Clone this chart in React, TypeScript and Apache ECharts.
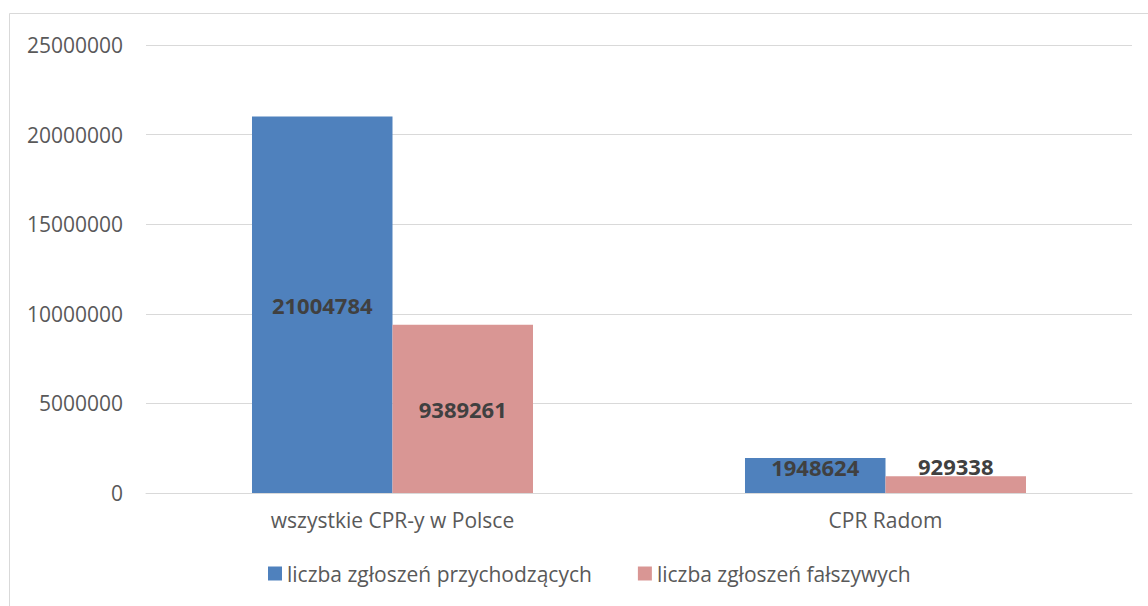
import React, { useEffect, useRef } from "react";
import * as echarts from "echarts";

const categories = ["wszystkie CPR-y w Polsce", "CPR Radom"];
const seriesNames = ["liczba zgłoszeń przychodzących", "liczba zgłoszeń fałszywych"];
const incoming = [21004784, 1948624];
const falseCalls = [9389261, 929338];
const yTicks = { min: 0, max: 25000000, interval: 5000000 };

const FONT = "'Open Sans', 'Noto Sans', sans-serif";

export default function App() {
  const ref = useRef<HTMLDivElement>(null);
  useEffect(() => {
    document.body.style.margin = "0";
    const chart = echarts.init(ref.current!, null, { renderer: "svg" });
    const labelBase = {
      show: true,
      position: "inside",
      fontFamily: FONT,
      fontSize: 22,
      fontWeight: "bold",
      color: "#404040",
    };
    chart.setOption({
      animation: false,
      backgroundColor: "#ffffff",
      graphic: [
        {
          type: "rect",
          shape: { x: 9.5, y: 13.5, width: 1200, height: 700 },
          style: { fill: "none", stroke: "#d9d9d9", lineWidth: 1 },
          silent: true,
          z: -10,
        },
      ],
      grid: { left: 146, right: 16, top: 45, bottom: 113, containLabel: false },
      xAxis: {
        type: "category",
        data: categories,
        axisLine: { show: true, lineStyle: { color: "#d9d9d9", width: 1 } },
        axisTick: { show: false },
        axisLabel: { fontFamily: FONT, fontSize: 21, color: "#595959", margin: 16 },
      },
      yAxis: {
        type: "value",
        min: yTicks.min,
        max: yTicks.max,
        interval: yTicks.interval,
        axisLine: { show: false },
        axisTick: { show: false },
        splitLine: { lineStyle: { color: "#d9d9d9", width: 1 } },
        axisLabel: {
          fontFamily: FONT,
          fontSize: 21,
          color: "#595959",
          margin: 23,
          formatter: (v: number) => String(v),
        },
      },
      legend: {
        data: seriesNames,
        bottom: 17,
        left: 263,
        icon: "rect",
        itemWidth: 14,
        itemHeight: 14,
        itemGap: 46,
        textStyle: { fontFamily: FONT, fontSize: 21, color: "#595959" },
      },
      series: [
        {
          name: seriesNames[0],
          type: "bar",
          barGap: "0%",
          barCategoryGap: "43%",
          itemStyle: { color: "#4f81bd" },
          label: labelBase,
          data: incoming.map((v, i) =>
            i === 1 ? { value: v, label: { offset: [0, -9] } } : { value: v }
          ),
        },
        {
          name: seriesNames[1],
          type: "bar",
          itemStyle: { color: "#d99694" },
          label: labelBase,
          data: falseCalls.map((v, i) =>
            i === 1 ? { value: v, label: { offset: [0, -19] } } : { value: v }
          ),
        },
      ],
    });
    return () => chart.dispose();
  }, []);
  return <div ref={ref} style={{ width: 1148, height: 606 }} />;
}
